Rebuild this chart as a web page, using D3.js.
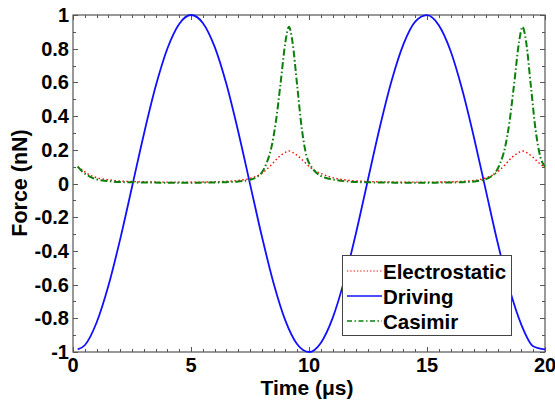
<!DOCTYPE html>
<html><head><meta charset="utf-8">
<script src="https://cdn.jsdelivr.net/npm/d3@7"></script>
<style>body{margin:0;background:#fff}svg{display:block}text{font-family:"Liberation Sans",Arial,sans-serif;font-weight:bold}</style>
</head><body><svg id="c" width="555" height="400"></svg>
<script>
const driveT = [0.2,0.5,1,1.5,2,2.5,3,3.5,4,4.5,5,5.5,6,6.5,7,7.5,8,8.5,9,9.5,10,10.5,11,11.5,12,12.5,13,13.5,14,14.5,15,15.5,16,16.5,17,17.5,18,18.5,19,19.5,20];
const driveV = [-0.985,-0.96,-0.825,-0.607,-0.33,-0.021,0.291,0.575,0.801,0.947,1,0.953,0.812,0.59,0.309,-0.002,-0.312,-0.592,-0.814,-0.954,-1,-0.946,-0.799,-0.572,-0.289,0.024,0.334,0.61,0.826,0.961,0.999,0.939,0.786,0.553,0.267,-0.045,-0.355,-0.628,-0.839,-0.966,-0.985];
const casT = [0.2,0.4,0.6,0.8,1,1.5,2,3,4,5,6,6.5,7,7.5,7.8,8,8.2,8.4,8.6,8.8,9,9.15,9.3,9.5,9.7,9.9,10.1,10.3,10.5,10.8,11,11.5,12,13,14,15,16,16.5,17,17.4,17.7,17.9,18.1,18.3,18.5,18.7,18.9,19.05,19.2,19.4,19.6,19.8,20];
const casV = [0.1,0.07,0.05,0.035,0.025,0.014,0.009,0.006,0.005,0.005,0.006,0.008,0.012,0.022,0.04,0.065,0.12,0.21,0.37,0.6,0.84,0.93,0.84,0.58,0.32,0.16,0.1,0.065,0.045,0.03,0.024,0.014,0.009,0.006,0.005,0.005,0.006,0.008,0.012,0.022,0.04,0.065,0.12,0.21,0.37,0.6,0.84,0.93,0.84,0.58,0.32,0.16,0.1];
const elecT = [0.2,0.4,0.6,0.8,1,1.5,2,3,4,5,6,6.5,7,7.5,8,8.4,8.7,9,9.15,9.3,9.6,9.9,10.2,10.5,11,11.5,12,13,14,15,16,16.5,17,17.4,17.9,18.3,18.6,18.9,19.05,19.2,19.5,19.8,20];
const elecV = [0.1,0.08,0.06,0.045,0.035,0.022,0.015,0.01,0.008,0.008,0.01,0.013,0.018,0.03,0.06,0.11,0.155,0.185,0.193,0.185,0.155,0.115,0.08,0.06,0.035,0.022,0.015,0.01,0.008,0.008,0.01,0.013,0.018,0.03,0.06,0.11,0.155,0.185,0.193,0.185,0.155,0.115,0.095];
const xTicks = [0,5,10,15,20];
const yTicks = [1,0.8,0.6,0.4,0.2,0,-0.2,-0.4,-0.6,-0.8,-1];
const seriesNames = ["Electrostatic","Driving","Casimir"];

const svg = d3.select("#c");
const L=73,R=545,T=15,B=352;
const x = d3.scaleLinear().domain([0,20]).range([L,R]);
const y = d3.scaleLinear().domain([-1,1]).range([B,T]);
const axisColor="#555";

const g = svg.append("g");
const xMinor = d3.range(0,20.01,0.5);
const yMinor = d3.range(-1,1.001,0.1);
g.append("rect").attr("x",L).attr("y",T).attr("width",R-L).attr("height",B-T).attr("fill","none").attr("stroke",axisColor).attr("stroke-width",1.2);
const isMajX = v=>Math.abs(v/5-Math.round(v/5))<1e-6;
const isMajY = v=>Math.abs(v/0.2-Math.round(v/0.2))<1e-6;
xMinor.forEach(v=>{const len=isMajX(v)?5:3;const px=Math.round(x(v))+0.5;
  g.append("line").attr("x1",px).attr("x2",px).attr("y1",B).attr("y2",B-len).attr("stroke",axisColor);
  g.append("line").attr("x1",px).attr("x2",px).attr("y1",T).attr("y2",T+len).attr("stroke",axisColor);});
yMinor.forEach(v=>{const len=isMajY(v)?5:3;const py=Math.round(y(v))+0.5;
  g.append("line").attr("x1",L).attr("x2",L+len).attr("y1",py).attr("y2",py).attr("stroke",axisColor);
  g.append("line").attr("x1",R).attr("x2",R-len).attr("y1",py).attr("y2",py).attr("stroke",axisColor);});
g.selectAll(".xl").data(xTicks).enter().append("text").attr("x",d=>x(d)).attr("y",B+20).attr("text-anchor","middle").attr("font-size",20).text(d=>d);
g.selectAll(".yl").data(yTicks).enter().append("text").attr("x",L-4).attr("y",d=>y(d)+7).attr("text-anchor","end").attr("font-size",20).text(d=>d);
svg.append("text").attr("x",(L+R)/2-2).attr("y",395).attr("text-anchor","middle").attr("font-size",21).text("Time (\u03bcs)");
svg.append("text").attr("transform","translate(27,183) rotate(-90)").attr("text-anchor","middle").attr("font-size",21.5).text("Force (nN)");

const line = d3.line().x(d=>x(d[0])).y(d=>y(d[1])).curve(d3.curveMonotoneX);
svg.append("clipPath").attr("id","cp").append("rect").attr("x",L).attr("y",T-3).attr("width",R-L).attr("height",B-T+6);
const pg = svg.append("g").attr("clip-path","url(#cp)");
const styles = {
  Electrostatic:{c:"#ff0000",w:1.4,d:"1.5,2.5"},
  Driving:{c:"#1010ff",w:1.8,d:null},
  Casimir:{c:"#0a800a",w:2,d:"7,2.5,1.5,2.5"}
};
pg.append("path").attr("d",line(driveT.map((t,i)=>[t,driveV[i]]))).attr("fill","none").attr("stroke",styles.Driving.c).attr("stroke-width",styles.Driving.w);
pg.append("path").attr("d",line(elecT.map((t,i)=>[t,elecV[i]]))).attr("fill","none").attr("stroke",styles.Electrostatic.c).attr("stroke-width",styles.Electrostatic.w).attr("stroke-dasharray",styles.Electrostatic.d);
pg.append("path").attr("d",line(casT.map((t,i)=>[t,casV[i]]))).attr("fill","none").attr("stroke",styles.Casimir.c).attr("stroke-width",styles.Casimir.w).attr("stroke-dasharray",styles.Casimir.d);

const lg = svg.append("g");
lg.append("rect").attr("x",342.5).attr("y",255.5).attr("width",169).attr("height",80).attr("fill","#fff").attr("stroke","#444").attr("stroke-width",1);
seriesNames.forEach((n,i)=>{const cy=271+i*25;const s=styles[n];
  const l=lg.append("line").attr("x1",347).attr("x2",382).attr("y1",cy).attr("y2",cy).attr("stroke",s.c).attr("stroke-width",n==="Electrostatic"?1.2:1.5);
  if(s.d) l.attr("stroke-dasharray",n==="Casimir"?"5,2.5,1.5,2.5":"1.3,2");
  lg.append("text").attr("x",383).attr("y",cy+7.5).attr("font-size",20.5).text(n);
});
</script></body></html>
